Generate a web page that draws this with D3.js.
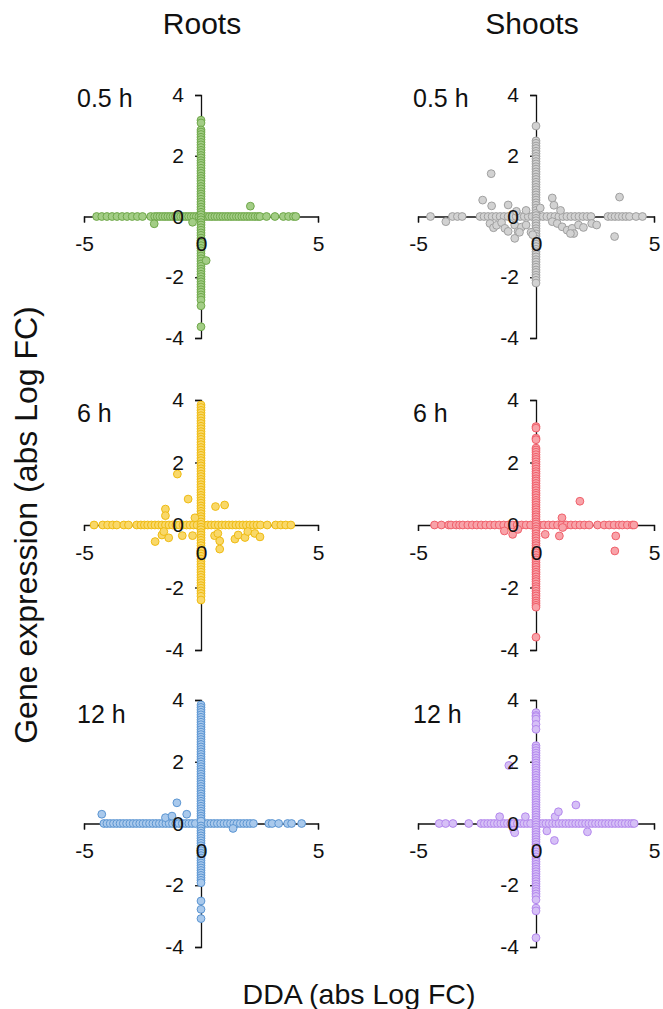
<!DOCTYPE html>
<html>
<head>
<meta charset="utf-8">
<script src="https://cdn.jsdelivr.net/npm/d3@7"></script>
<style>
  body { margin: 0; background: #fff; }
  svg text { font-family: "Liberation Sans", Arial, sans-serif; fill: #111; }
</style>
</head>
<body>
<svg id="chart" width="663" height="1009"></svg>
<script>
// Column / row headings and tick values
const tissues = ["Roots", "Shoots"];
const timepoints = ["0.5 h", "6 h", "12 h"];
const xTicks = [-5, 0, 5];
const yTicks = [-4, -2, 0, 2, 4];

// ---- Roots, 0.5 h ----
// genes changed only in expression (DDA = 0)
const rootsH05Expr = [3.17, 3.08, 2.85, 2.78, 2.7, 2.61, 2.53, 2.44, 2.36, 2.27, 2.18, 2.1, 2.01, 1.93, 1.84, 1.76, 1.68, 1.59, 1.5, 1.42, 1.33, 1.25, 1.17, 1.08, 0.99, 0.91, 0.82, 0.74, 0.66, 0.57, 0.48, 0.4, 0.31, 0.23, 0.14, 0.06, -0.03, -0.11, -0.2, -0.28, -0.37, -0.45, -0.54, -0.62, -0.71, -0.79, -0.88, -0.96, -1.05, -1.13, -1.22, -1.3, -1.39, -1.47, -1.56, -1.64, -1.73, -1.81, -1.9, -1.98, -2.07, -2.15, -2.24, -2.32, -2.41, -2.49, -2.58, -2.66, -2.75, -2.94, -3.63];
// genes changed only in DDA (expression = 0)
const rootsH05DDA = [-4.46, -4.24, -4.02, -3.8, -3.59, -3.37, -3.16, -2.94, -2.72, -2.5, -2.15, -1.98, -1.87, -1.76, -1.64, -1.53, -1.42, -1.31, -1.2, -1.09, -0.98, -0.87, -0.76, -0.64, -0.53, -0.42, -0.31, -0.2, -0.09, 0.12, 0.24, 0.36, 0.47, 0.59, 0.7, 0.82, 0.93, 1.05, 1.16, 1.28, 1.39, 1.51, 1.62, 1.74, 1.85, 1.97, 2.08, 2.2, 2.31, 2.43, 2.52, 2.8, 3.16, 3.52, 3.74, 3.95, 4.05];
// genes changed in both
const rootsH05Both = [[2.11, 0.34], [-2.0, -0.24], [-0.36, -0.19], [0.22, -1.45]];

// ---- Shoots, 0.5 h ----
const shootsH05Expr = [2.98, 2.49, 2.41, 2.32, 2.24, 2.15, 2.07, 1.98, 1.9, 1.81, 1.73, 1.64, 1.56, 1.47, 1.39, 1.3, 1.22, 1.13, 1.05, 0.96, 0.88, 0.79, 0.71, 0.62, 0.54, 0.45, 0.37, 0.28, 0.2, 0.11, 0.03, -0.06, -0.14, -0.23, -0.31, -0.4, -0.48, -0.57, -0.65, -0.74, -0.82, -0.91, -0.99, -1.08, -1.16, -1.25, -1.33, -1.42, -1.5, -1.59, -1.67, -1.76, -1.84, -1.93, -2.01, -2.1, -2.19];
const shootsH05DDA = [-4.47, -3.54, -3.33, -3.13, -2.37, -2.2, -2.03, -1.86, -1.69, -1.52, -1.35, -1.18, -1.01, -0.84, -0.67, -0.5, -0.33, -0.16, 0.12, 0.29, 0.46, 0.63, 0.8, 0.97, 1.14, 1.31, 1.48, 1.65, 1.82, 1.99, 2.16, 2.33, 3.05, 3.2, 3.35, 3.5, 3.66, 3.81, 3.96, 4.24, 4.51];
const shootsH05Both = [[-1.9, 1.41], [-2.26, 0.54], [-1.88, 0.35], [-1.18, 0.38], [-0.83, 0.17], [-0.42, 0.2], [0.18, 0.28], [0.69, 0.61], [0.76, 0.37], [1.04, 0.2], [3.54, 0.64], [3.33, -0.66], [-3.82, -0.17], [-1.95, -0.23], [-1.8, -0.37], [-1.67, -0.29], [-1.46, -0.2], [-1.32, -0.39], [-1.18, -0.49], [-0.9, -0.28], [-0.76, -0.49], [-0.9, -0.72], [-0.62, -0.35], [-0.7, -0.52], [-0.21, -0.52], [-0.14, -0.6], [-0.42, -0.28], [0.69, -0.17], [0.9, -0.23], [1.11, -0.34], [1.32, -0.45], [1.53, -0.39], [1.6, -0.56], [1.46, -0.56], [1.8, -0.28], [2.01, -0.36], [2.36, -0.23], [2.57, -0.28]];

// ---- Roots, 6 h ----
const rootsH6Expr = [3.84, 3.76, 3.67, 3.59, 3.5, 3.42, 3.33, 3.25, 3.16, 3.08, 2.99, 2.91, 2.82, 2.74, 2.65, 2.57, 2.48, 2.4, 2.31, 2.23, 2.14, 2.06, 1.97, 1.89, 1.8, 1.72, 1.63, 1.55, 1.46, 1.38, 1.29, 1.21, 1.12, 1.04, 0.95, 0.87, 0.78, 0.7, 0.61, 0.53, 0.44, 0.36, 0.27, 0.19, 0.1, 0.02, -0.07, -0.15, -0.24, -0.32, -0.41, -0.49, -0.58, -0.66, -0.75, -0.83, -0.92, -1.0, -1.09, -1.17, -1.26, -1.34, -1.43, -1.51, -1.6, -1.68, -1.77, -1.85, -1.94, -2.02, -2.11, -2.19, -2.28, -2.4];
const rootsH6DDA = [-4.57, -4.2, -3.99, -3.78, -3.6, -3.3, -3.1, -2.75, -2.57, -2.42, -2.28, -2.12, -1.97, -1.82, -1.67, -1.52, -1.37, -1.22, -1.07, -0.92, -0.77, -0.62, -0.47, -0.32, -0.17, 0.14, 0.29, 0.44, 0.59, 0.74, 0.89, 1.04, 1.19, 1.34, 1.49, 1.64, 1.79, 1.94, 2.09, 2.24, 2.39, 2.54, 2.83, 3.19, 3.41, 3.62, 3.84];
const rootsH6Both = [[-1.01, 1.63], [-0.55, 0.83], [-1.52, 0.51], [-1.52, 0.3], [-0.26, 0.23], [0.62, 0.59], [1.01, 0.64], [-1.96, -0.53], [-1.67, -0.32], [-1.38, -0.41], [-1.59, -0.21], [-0.8, -0.34], [-0.36, -0.34], [0.58, -0.34], [0.72, -0.27], [0.8, -0.51], [0.8, -0.77], [1.45, -0.45], [1.59, -0.32], [1.88, -0.4], [2.0, -0.21], [2.3, -0.27], [2.52, -0.38]];

// ---- Shoots, 6 h ----
const shootsH6Expr = [3.15, 3.1, 2.78, 2.73, 2.46, 2.4, 2.33, 2.25, 2.17, 2.1, 2.02, 1.94, 1.87, 1.79, 1.71, 1.64, 1.56, 1.48, 1.41, 1.33, 1.25, 1.18, 1.1, 1.02, 0.95, 0.87, 0.79, 0.72, 0.64, 0.56, 0.49, 0.41, 0.33, 0.26, 0.18, 0.1, 0.03, -0.05, -0.13, -0.2, -0.28, -0.36, -0.43, -0.51, -0.59, -0.66, -0.74, -0.82, -0.89, -0.97, -1.05, -1.12, -1.2, -1.28, -1.35, -1.43, -1.51, -1.58, -1.66, -1.74, -1.81, -1.89, -1.97, -2.04, -2.12, -2.2, -2.27, -2.35, -2.43, -2.5, -2.57, -2.63, -3.59];
const shootsH6DDA = [-4.3, -4.01, -3.7, -3.6, -3.38, -3.24, -3.1, -2.89, -2.7, -2.51, -2.32, -2.13, -1.94, -1.75, -1.56, -1.37, -1.18, -0.99, -0.8, -0.61, -0.42, -0.23, 0.15, 0.34, 0.53, 0.72, 0.91, 1.1, 1.29, 1.48, 1.67, 1.86, 2.05, 2.25, 2.61, 2.89, 3.1, 3.31, 3.52, 3.66, 3.87, 4.08, 4.15];
const shootsH6Both = [[1.86, 0.76], [1.1, 0.23], [-1.34, -0.19], [-0.99, -0.3], [-0.77, -0.14], [0.39, -0.3], [0.99, -0.35], [1.13, -0.08], [3.38, -0.35], [3.34, -0.83]];

// ---- Roots, 12 h ----
const rootsH12Expr = [3.84, 3.76, 3.68, 3.6, 3.52, 3.44, 3.36, 3.28, 3.2, 3.12, 3.04, 2.96, 2.88, 2.8, 2.72, 2.64, 2.56, 2.48, 2.4, 2.32, 2.24, 2.16, 2.08, 2.0, 1.92, 1.84, 1.76, 1.68, 1.6, 1.52, 1.44, 1.36, 1.28, 1.2, 1.12, 1.04, 0.96, 0.88, 0.8, 0.72, 0.64, 0.56, 0.48, 0.4, 0.32, 0.24, 0.16, 0.08, -0.08, -0.16, -0.24, -0.32, -0.4, -0.48, -0.56, -0.64, -0.72, -0.8, -0.88, -0.96, -1.04, -1.12, -1.2, -1.28, -1.36, -1.44, -1.52, -1.6, -1.68, -1.76, -1.84, -1.92, -2.51, -2.78, -3.08];
const rootsH12DDA = [-4.15, -4.02, -3.88, -3.74, -3.6, -3.46, -3.32, -3.18, -3.04, -2.9, -2.76, -2.62, -2.48, -2.34, -2.2, -2.06, -1.92, -1.78, -1.64, -1.5, -1.36, -1.22, -1.08, -0.94, -0.8, -0.66, -0.52, -0.38, -0.24, 0.14, 0.28, 0.42, 0.56, 0.7, 0.84, 0.98, 1.12, 1.26, 1.4, 1.54, 1.68, 1.82, 1.96, 2.1, 2.24, 2.9, 3.04, 3.32, 3.7, 3.87, 4.3];
const rootsH12Both = [[-4.24, 0.3], [-1.03, 0.67], [-1.52, 0.19], [-1.24, 0.24], [-0.61, 0.3], [1.37, -0.16]];

// ---- Shoots, 12 h ----
const shootsH12Expr = [3.59, 3.5, 3.46, 3.38, 3.21, 3.05, 2.52, 2.44, 2.36, 2.28, 2.2, 2.12, 2.04, 1.96, 1.88, 1.8, 1.72, 1.64, 1.56, 1.48, 1.4, 1.32, 1.24, 1.16, 1.08, 1.0, 0.92, 0.84, 0.76, 0.68, 0.6, 0.52, 0.44, 0.36, 0.28, 0.2, 0.12, 0.04, -0.04, -0.12, -0.2, -0.28, -0.36, -0.44, -0.52, -0.6, -0.68, -0.76, -0.84, -0.92, -1.0, -1.08, -1.16, -1.24, -1.32, -1.4, -1.48, -1.56, -1.64, -1.72, -1.8, -1.88, -1.96, -2.04, -2.12, -2.2, -2.28, -2.36, -2.47, -2.74, -2.83, -3.7];
const shootsH12DDA = [-4.1, -3.83, -3.52, -2.85, -2.33, -2.19, -2.05, -1.91, -1.77, -1.63, -1.49, -1.35, -1.21, -1.07, -0.93, -0.79, -0.65, -0.51, -0.37, -0.23, 0.14, 0.28, 0.42, 0.56, 0.7, 0.84, 0.98, 1.12, 1.26, 1.4, 1.54, 1.68, 1.82, 1.96, 2.1, 2.24, 2.38, 2.52, 2.66, 2.8, 2.94, 3.08, 3.22, 3.36, 3.5, 3.64, 3.78, 3.92, 4.06, 4.16];
const shootsH12Both = [[-1.54, 0.22], [-0.45, 0.22], [-0.94, -0.22], [-0.9, -0.3], [0.46, -0.24], [0.78, -0.55], [0.81, 0.22], [0.95, 0.38], [1.69, 0.6], [2.18, -0.27], [-1.15, 1.88]];

// Marker colours per panel: [fill, stroke]
const panelColors = [
  ["#a3cd86", "#6fa84a"], ["#d2d2d2", "#a0a0a0"],
  ["#f9d869", "#efbb12"], ["#f8a3a9", "#f0606b"],
  ["#a9c9ec", "#5b95d2"], ["#d6c0f6", "#b488ee"]
];

const panelData = [
  [rootsH05Expr, rootsH05DDA, rootsH05Both], [shootsH05Expr, shootsH05DDA, shootsH05Both],
  [rootsH6Expr, rootsH6DDA, rootsH6Both], [shootsH6Expr, shootsH6DDA, shootsH6Both],
  [rootsH12Expr, rootsH12DDA, rootsH12Both], [shootsH12Expr, shootsH12DDA, shootsH12Both]
];

// Layout
const colRanges = [[84, 318], [418, 654]];
const rowRanges = [[95, 338], [400, 650], [700, 947]];
const rowLabelBaseline = [107, 422, 723];
const colLabelX = [77, 413];
const colTitleX = [202, 532];
const r = 3.9;

const svg = d3.select("#chart");

// Column headings
svg.selectAll("text.col-title").data(tissues).join("text")
  .attr("class", "col-title")
  .attr("x", (d, i) => colTitleX[i])
  .attr("y", 34)
  .attr("text-anchor", "middle")
  .attr("font-size", 30)
  .text(d => d);

// Axis titles
svg.append("text")
  .attr("x", 359).attr("y", 1004)
  .attr("text-anchor", "middle").attr("font-size", 28.5)
  .text("DDA (abs Log FC)");
svg.append("text")
  .attr("transform", "translate(37,525) rotate(-90)")
  .attr("text-anchor", "middle").attr("font-size", 32)
  .text("Gene expression (abs Log FC)");

const lineLayer = svg.append("g");
const dotLayer = svg.append("g");
const textLayer = svg.append("g");

panelData.forEach((pd, idx) => {
  const row = Math.floor(idx / 2), col = idx % 2;
  const [exprOnly, ddaOnly, both] = pd;
  const [fill, stroke] = panelColors[idx];

  const x = d3.scaleLinear().domain([-5, 5]).range(colRanges[col]);
  const y = d3.scaleLinear().domain([-4, 4]).range([rowRanges[row][1], rowRanges[row][0]]);

  const xAxis = d3.axisBottom(x).tickValues(xTicks).tickSize(6).tickSizeOuter(6).tickPadding(14);
  const yAxis = d3.axisLeft(y).tickValues(yTicks).tickSize(6).tickSizeOuter(6).tickPadding(11);

  // axis lines beneath the markers
  const gxL = lineLayer.append("g").attr("transform", `translate(0,${y(0)})`).call(xAxis.tickFormat(""));
  const gyL = lineLayer.append("g").attr("transform", `translate(${x(0)},0)`).call(yAxis.tickFormat(""));
  [gxL, gyL].forEach(g => {
    g.select(".domain").attr("stroke", "#111").attr("stroke-width", 1.3);
    g.selectAll(".tick line").attr("stroke", "#111").attr("stroke-width", 1.3);
  });

  // tick labels above the markers
  const gxT = textLayer.append("g").attr("transform", `translate(0,${y(0)})`).call(xAxis.tickFormat(d3.format("d")));
  const gyT = textLayer.append("g").attr("transform", `translate(${x(0)},0)`).call(yAxis.tickFormat(d3.format("d")));
  [gxT, gyT].forEach(g => {
    g.select(".domain").remove();
    g.selectAll(".tick line").remove();
    g.selectAll(".tick text").attr("font-size", 21).attr("font-family", "Liberation Sans, Arial, sans-serif").attr("fill", "#111");
  });
  gxT.selectAll(".tick text").text(d => d < 0 ? "-" + Math.abs(d) : d);
  gyT.selectAll(".tick text").text(d => d < 0 ? "-" + Math.abs(d) : d);

  // points
  const pts = [
    ...ddaOnly.map(v => [v, 0]),
    ...exprOnly.map(v => [0, v]),
    ...both
  ];
  dotLayer.append("g").selectAll("circle").data(pts).join("circle")
    .attr("cx", d => x(d[0]))
    .attr("cy", d => y(d[1]))
    .attr("r", r)
    .attr("fill", fill)
    .attr("stroke", stroke)
    .attr("stroke-width", 1);

  // time label
  textLayer.append("text")
    .attr("x", colLabelX[col])
    .attr("y", rowLabelBaseline[row])
    .attr("font-size", 25)
    .text(timepoints[row]);
});
</script>
</body>
</html>
